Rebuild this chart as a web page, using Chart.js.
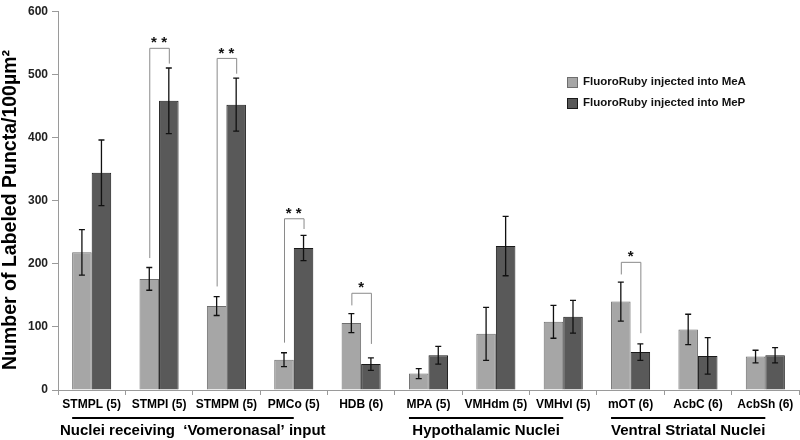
<!DOCTYPE html>
<html>
<head>
<meta charset="utf-8">
<script src="https://cdn.jsdelivr.net/npm/chart.js@4/dist/chart.umd.min.js"></script>
<style>
html,body{margin:0;padding:0;background:#fff;}
#wrap{width:800px;height:440px;position:relative;}
</style>
</head>
<body>
<div id="wrap"><canvas id="c" width="800" height="440"></canvas></div>
<script>
const categories = ['STMPL (5)','STMPI (5)','STMPM (5)','PMCo (5)','HDB (6)','MPA (5)','VMHdm (5)','VMHvl (5)','mOT (6)','AcbC (6)','AcbSh (6)'];
const seriesNames = ['FluoroRuby injected into MeA','FluoroRuby injected into MeP'];
const meaValues = [218, 176, 133, 48, 106, 26, 89, 108, 140, 96, 53];
const mepValues = [344, 458, 452, 225, 41, 55, 228, 116, 60, 54, 55];
const meaErrors = [36, 18, 15, 11, 15, 8, 42, 26, 31, 24, 10];
const mepErrors = [52, 52, 42, 20, 10, 14, 47, 26, 13, 29, 12];
const yTicks = [0, 100, 200, 300, 400, 500, 600];
const yTitle = 'Number of Labeled Puncta/100\u00b5m\u00b2';
// significance brackets: category index, bracket top value, left leg bottom, right leg bottom, label
const bracketIndex = [1, 2, 3, 4, 8];
const bracketTop = [542, 526, 272, 154, 203];
const bracketLeft = [209, 164, 75, 134, 183];
const bracketRight = [517, 501, 255, 73, 90];
const bracketLabel = ['**', '**', '**', '*', '*'];
// group labels under the axis
const groupLabels = ['Nuclei receiving  \u2018Vomeronasal\u2019 input', 'Hypothalamic Nuclei', 'Ventral Striatal Nuclei'];
const groupFrom = [0, 5, 8];
const groupTo = [3, 7, 10];

const FONT = "'Liberation Sans', Arial, sans-serif";
const errors = [meaErrors, mepErrors];

const extras = {
  id: 'extras',
  afterDatasetsDraw(chart) {
    const ctx = chart.ctx;
    const ys = chart.scales.y;
    ctx.save();
    // error bars
    chart.data.datasets.forEach((ds, di) => {
      const meta = chart.getDatasetMeta(di);
      meta.data.forEach((el, i) => {
        const v = ds.data[i], e = errors[di][i];
        const yt = ys.getPixelForValue(v + e), yb = ys.getPixelForValue(v - e);
        ctx.strokeStyle = '#111';
        ctx.lineWidth = 1.3;
        ctx.beginPath();
        ctx.moveTo(el.x, yt); ctx.lineTo(el.x, yb);
        ctx.moveTo(el.x - 3, yt); ctx.lineTo(el.x + 3, yt);
        ctx.moveTo(el.x - 3, yb); ctx.lineTo(el.x + 3, yb);
        ctx.stroke();
      });
    });
    // brackets
    const m0 = chart.getDatasetMeta(0), m1 = chart.getDatasetMeta(1);
    bracketIndex.forEach((idx, k) => {
      const xl = m0.data[idx].x, xr = m1.data[idx].x;
      const yt = ys.getPixelForValue(bracketTop[k]);
      ctx.strokeStyle = '#8a8a8a';
      ctx.lineWidth = 1;
      ctx.beginPath();
      ctx.moveTo(xl + 0.5, ys.getPixelForValue(bracketLeft[k]));
      ctx.lineTo(xl + 0.5, yt + 0.5);
      ctx.lineTo(xr + 0.5, yt + 0.5);
      ctx.lineTo(xr + 0.5, ys.getPixelForValue(bracketRight[k]));
      ctx.stroke();
      ctx.fillStyle = '#111';
      ctx.font = 'bold 15px ' + FONT;
      ctx.textAlign = 'center';
      ctx.textBaseline = 'bottom';
      ctx.fillText(bracketLabel[k].split('').join(' '), (xl + xr) / 2, yt + 3);
    });
    // legend
    const colors = [chart.data.datasets[0].backgroundColor, chart.data.datasets[1].backgroundColor];
    const borders = [chart.data.datasets[0].borderColor, chart.data.datasets[1].borderColor];
    seriesNames.forEach((n, i) => {
      const y = 82 + i * 21;
      ctx.fillStyle = colors[i];
      ctx.fillRect(567.5, y - 5, 10, 10);
      ctx.strokeStyle = borders[i];
      ctx.lineWidth = 1;
      ctx.strokeRect(567.5, y - 4.5, 10, 10);
      ctx.fillStyle = '#111';
      ctx.font = 'bold 11.5px ' + FONT;
      ctx.textAlign = 'left';
      ctx.textBaseline = 'middle';
      ctx.fillText(n, 583, y);
    });
    // group labels
    const xs = chart.scales.x;
    const half = m0.data[0].width;
    groupLabels.forEach((g, i) => {
      const x1 = xs.getPixelForValue(groupFrom[i]) - half;
      const x2 = xs.getPixelForValue(groupTo[i]);
      ctx.strokeStyle = '#000';
      ctx.lineWidth = 2;
      ctx.beginPath();
      ctx.moveTo(x1, 418); ctx.lineTo(x2, 418);
      ctx.stroke();
      ctx.fillStyle = '#000';
      ctx.font = 'bold 15px ' + FONT;
      ctx.textAlign = 'center';
      ctx.textBaseline = 'middle';
      const cx = i === 0 ? (xs.getPixelForValue(groupFrom[i]) + x2) / 2 : (x1 + x2) / 2;
      ctx.fillText(g, cx, 431);
    });
    // y-axis title
    ctx.translate(11, 210);
    ctx.rotate(-Math.PI / 2);
    ctx.fillStyle = '#000';
    ctx.font = 'bold 19.5px ' + FONT;
    ctx.textAlign = 'center';
    ctx.textBaseline = 'middle';
    ctx.fillText(yTitle, 0, 0);
    ctx.restore();
  }
};

new Chart(document.getElementById('c'), {
  type: 'bar',
  data: {
    labels: categories,
    datasets: [
      { label: seriesNames[0], data: meaValues, backgroundColor: '#a6a6a6', borderColor: '#6e6e6e', borderWidth: 1, categoryPercentage: 0.58, barPercentage: 1 },
      { label: seriesNames[1], data: mepValues, backgroundColor: '#595959', borderColor: '#1a1a1a', borderWidth: 1, categoryPercentage: 0.58, barPercentage: 1 }
    ]
  },
  options: {
    responsive: false,
    animation: false,
    layout: { padding: { top: 6, right: 1, left: 0, bottom: 0 } },
    plugins: { legend: { display: false }, tooltip: { enabled: false } },
    scales: {
      x: {
        afterFit(s) { s.height = 50; },
        grid: { display: true, drawOnChartArea: false, offset: true, color: '#9a9a9a', tickLength: 5 },
        border: { color: '#9a9a9a' },
        ticks: { color: '#000', font: { family: FONT, size: 12, weight: 'bold' }, padding: 2, maxRotation: 0, autoSkip: false }
      },
      y: {
        min: 0, max: 600,
        afterFit(s) { s.width = 58; },
        afterBuildTicks(s) { s.ticks = yTicks.map(v => ({ value: v })); },
        grid: { display: true, drawOnChartArea: false, color: '#9a9a9a', tickLength: 6 },
        border: { color: '#9a9a9a' },
        ticks: { color: '#222', font: { family: FONT, size: 12, weight: 'bold' }, padding: 4 },
        title: { display: false }
      }
    }
  },
  plugins: [extras]
});
</script>
</body>
</html>
